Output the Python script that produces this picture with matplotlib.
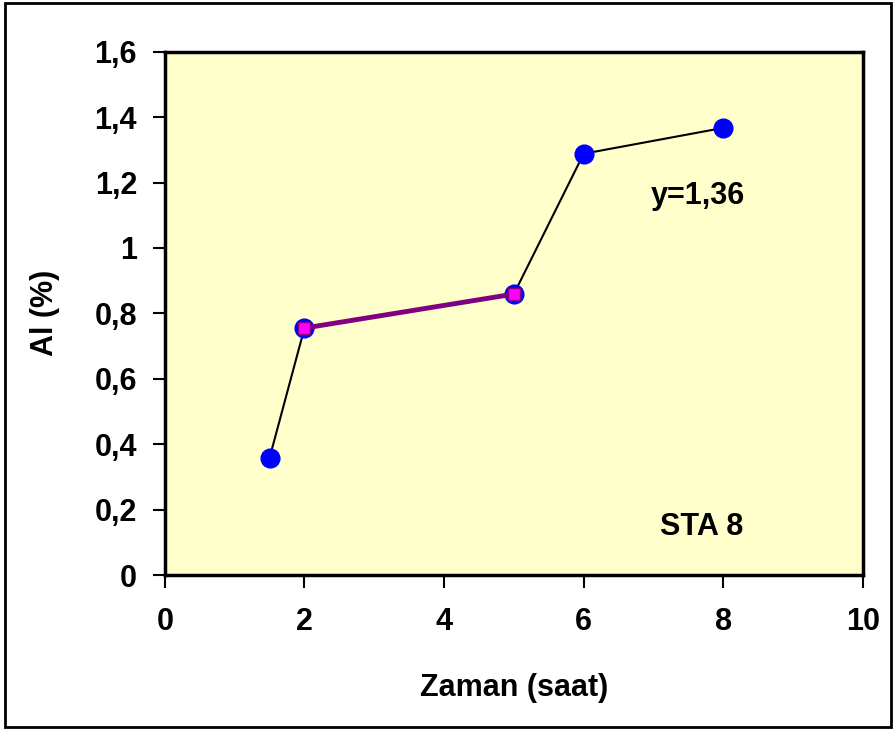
import numpy as np
import matplotlib.pyplot as plt
from matplotlib.patches import Rectangle

plt.rcParams['font.family'] = ['Liberation Sans', 'DejaVu Sans']
plt.rcParams['font.weight'] = 'bold'

# data
zaman = [1.5, 2, 5, 6, 8]
al = [0.358, 0.755, 0.859, 1.288, 1.367]
zaman_seg = [2, 5]
al_seg = [0.755, 0.859]

fig = plt.figure(figsize=(8.96, 7.33), dpi=100)
ax = fig.add_axes([0.184, 0.2155, 0.779, 0.714])
ax.set_facecolor('#FFFFCC')

ax.plot(zaman, al, color='black', lw=1.5, marker='o', ms=13.5,
        mfc='#0000FF', mec='#0000FF', zorder=3)
ax.plot(zaman_seg, al_seg, color='#800080', lw=3.5, marker='s', ms=8,
        mfc='#FF00FF', mec='#800080', mew=1, zorder=4)

ax.set_xlim(0, 10)
ax.set_ylim(0, 1.6)
ax.set_xticks([0, 2, 4, 6, 8, 10])
ax.set_yticks([0, 0.2, 0.4, 0.6, 0.8, 1.0, 1.2, 1.4, 1.6])
ax.set_yticklabels(['0', '0,2', '0,4', '0,6', '0,8', '1', '1,2', '1,4', '1,6'])
ax.tick_params(axis='both', direction='out', length=9, width=1.5, labelsize=22)
ax.tick_params(axis='x', pad=14)
ax.tick_params(axis='y', pad=11)
for lab in ax.get_xticklabels() + ax.get_yticklabels():
    lab.set_fontweight('bold')
for s in ax.spines.values():
    s.set_linewidth(2.5)

ax.set_xlabel('Zaman (saat)', fontsize=22, fontweight='bold', labelpad=26)
ax.set_ylabel('Al (%)', fontsize=22, fontweight='bold', labelpad=25)

ax.text(7.64, 1.16, 'y=1,36', fontsize=22, fontweight='bold', ha='center', va='center')
ax.text(7.69, 0.147, 'STA 8', fontsize=22, fontweight='bold', ha='center', va='center')

fig.patches.append(Rectangle((0.006, 0.008), 0.988, 0.988, transform=fig.transFigure,
                             fill=False, edgecolor='black', lw=2))

fig.savefig('out.png', dpi=100)
